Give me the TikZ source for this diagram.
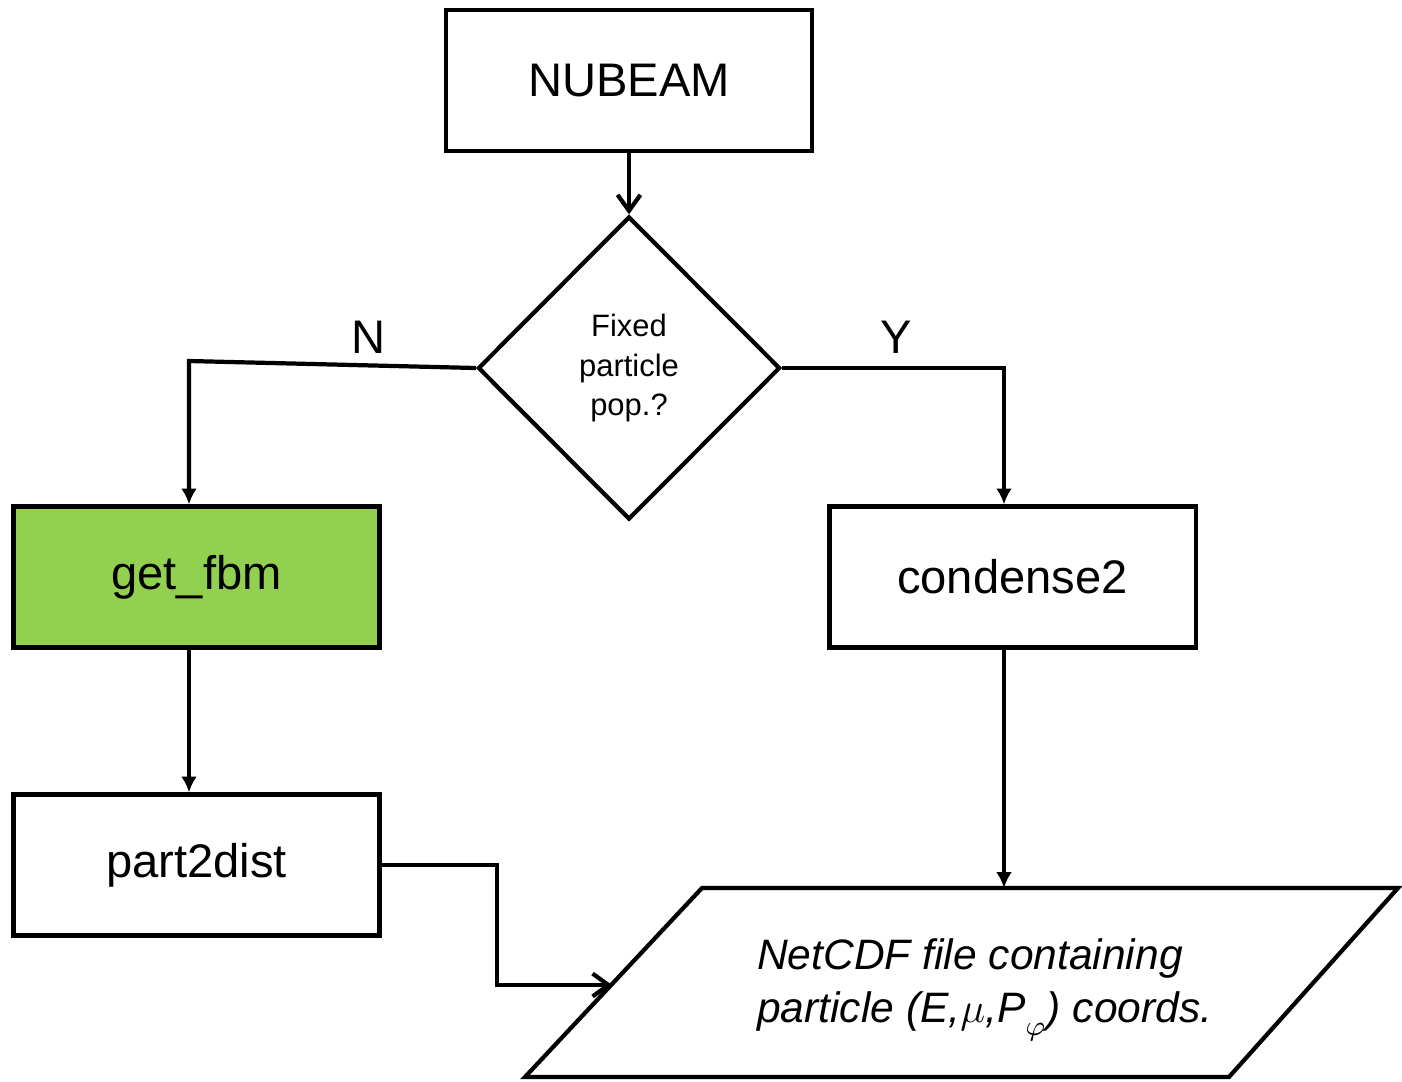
\documentclass[tikz,border=0pt]{standalone}
\usepackage{fontspec}
\setmainfont{Liberation Sans}
\usetikzlibrary{shapes.geometric,arrows.meta}
\definecolor{fbmgreen}{HTML}{92D050}

\begin{document}
\begin{tikzpicture}[x=0.01cm,y=-0.01cm,line width=1.2pt,
    box/.style={draw,minimum width=3.66cm,minimum height=1.41cm,inner sep=0pt,font=\fontsize{13.4}{16}\selectfont},
    decide/.style={draw,diamond,minimum width=3.02cm,minimum height=3.03cm,inner sep=0pt,align=center,font=\fontsize{8.8}{11.1}\selectfont},
    lbl/.style={font=\fontsize{13.4}{16}\selectfont},
    arr/.style={-{Latex[length=4.5pt,width=4.5pt]}},
    openarr/.style={-{Straight Barb[length=4.5pt,width=6.5pt]}}]
    \useasboundingbox (0,0) rectangle (1402,1081);
    \node [box] (nubeam) at (629,80.5) {NUBEAM};
    \node [decide] (fixed) at (629,368) {Fixed\\particle\\pop.?};
    \node [box,fill=fbmgreen] (getfbm) at (196.5,577) {get\_fbm};
    \node [box] (condense) at (1012.5,577) {condense2};
    \node [box] (part) at (196.5,865) {part2dist};
    % output file
    \coordinate (pbl) at (525,1077);
    \coordinate (ptl) at (702,888);
    \coordinate (ptr) at (1398,888);
    \coordinate (pbr) at (1229,1077);
    \draw (pbl) -- (ptl) -- (ptr) -- (pbr) -- cycle;
    \node (ncdf) [anchor=west,align=left,inner sep=0pt,font=\itshape\fontsize{12.1}{14.8}\selectfont] at (755,990)
        {NetCDF file containing\\particle (E,$\mu$,P$_{\raisebox{-2pt}{$\scriptstyle\varphi$}}$) coords.};
    % bends
    \coordinate (nbend) at (189,361);
    \coordinate (ybend) at (1004,368);
    \coordinate (pturn) at (497,985);
    \coordinate (pin) at (612,985);
    \node [lbl] (nlabel) at (369,337) {N};
    \node [lbl] (ylabel) at (896,337) {Y};
    \draw [openarr] (nubeam) -- (fixed);
    \draw [arr] (fixed.west) -- (nbend) -- (getfbm.north -| nbend);
    \draw [arr] (fixed.east) -- (ybend) -- (condense.north -| ybend);
    \draw [arr] (getfbm.south -| nbend) -- (part.north -| nbend);
    \draw [arr] (condense.south -| ybend) -- (ptl -| ybend);
    \draw [openarr] (part.east) -| (pturn) -- (pin);
\end{tikzpicture}
\end{document}
